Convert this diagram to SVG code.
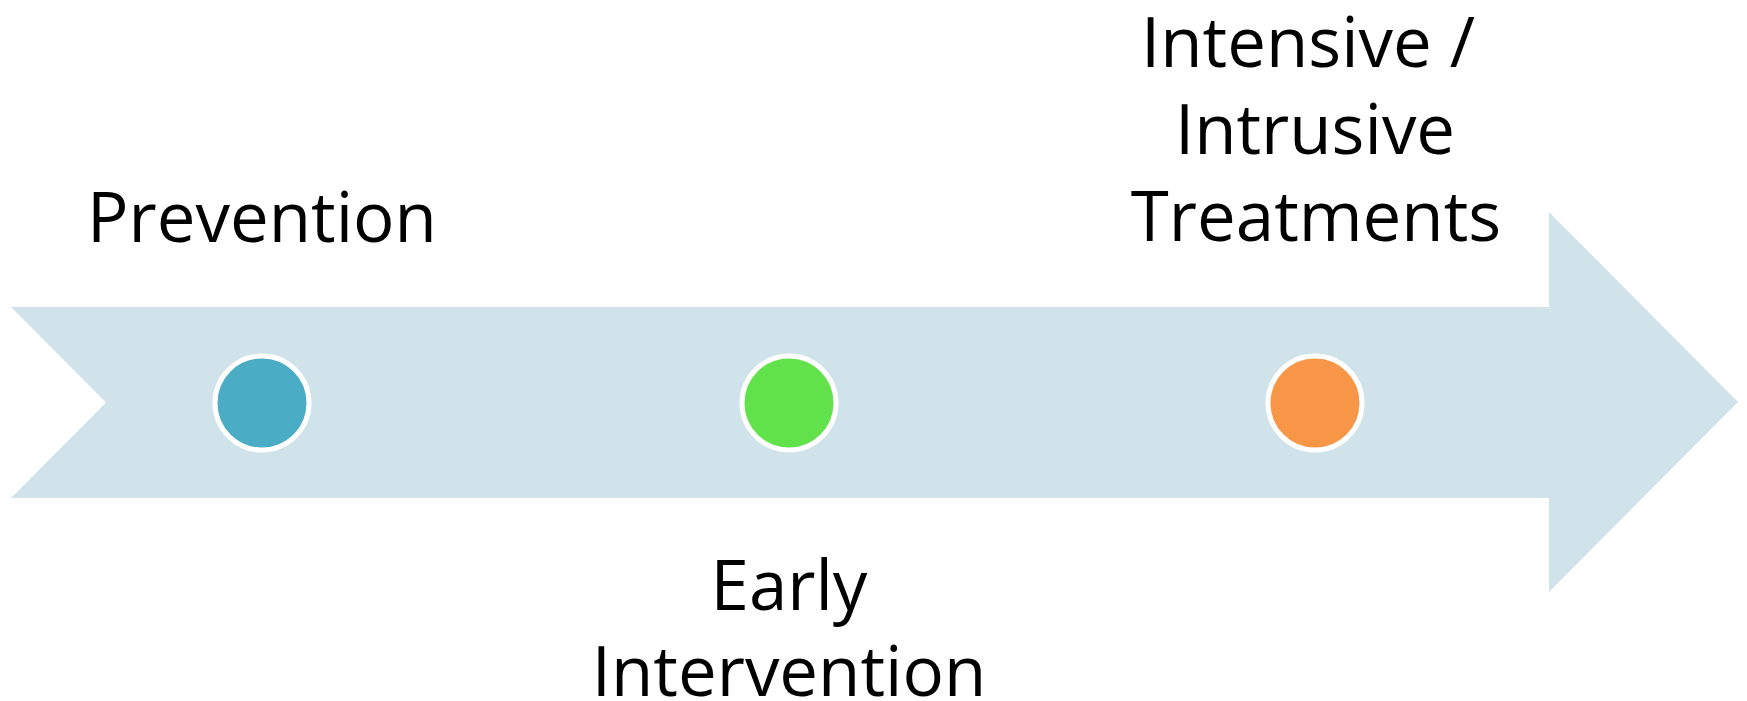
<svg xmlns="http://www.w3.org/2000/svg" width="1747" height="701" viewBox="0 0 1747 701">
<style>
.lbl{font-family:"Open Sans","Noto Sans","Liberation Sans",sans-serif;font-size:69px;fill:#000;text-anchor:middle}
.dot{stroke:#fff;stroke-width:5}
</style>
<rect width="1747" height="701" fill="#fff"/>
<g id="connectors">
<polygon id="arrow" points="11,307 1549,307 1549,212 1738,402 1549,592 1549,498 11,498 106,402.5" fill="#D0E3EA"/>
</g>
<g id="prevention">
<circle class="dot" cx="262" cy="403" r="47" fill="#4BACC6"/>
<text class="lbl" x="262" y="242">Prevention</text>
</g>
<g id="early">
<circle class="dot" cx="789" cy="403" r="47" fill="#61E24A"/>
<text class="lbl" x="789" y="610">Early</text>
<text class="lbl" x="789" y="696">Intervention</text>
</g>
<g id="intensive">
<circle class="dot" cx="1315" cy="403" r="47" fill="#F79646"/>
<text class="lbl" x="1308" y="67">Intensive /</text>
<text class="lbl" x="1315" y="154">Intrusive</text>
<text class="lbl" x="1316" y="241">Treatments</text>
</g>
</svg>
